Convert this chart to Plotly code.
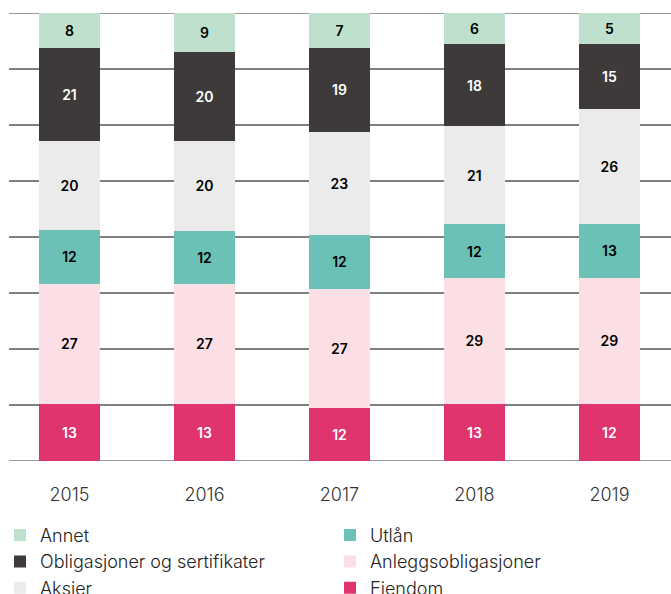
import plotly.graph_objects as go

years = ["2015", "2016", "2017", "2018", "2019"]
# bar heights (percent of total)
eiendom = [12.7, 12.7, 11.8, 12.7, 12.7]
anleggsobligasjoner = [26.9, 26.9, 26.6, 28.2, 28.2]
utlan = [11.9, 11.9, 12.1, 11.9, 12.1]
aksjer = [20.0, 20.0, 22.9, 21.9, 25.5]
obligasjoner = [20.7, 19.9, 18.7, 18.4, 14.6]
annet = [7.8, 8.7, 7.8, 6.9, 6.9]
# printed labels
eiendom_lbl = [13, 13, 12, 13, 12]
anleggsobligasjoner_lbl = [27, 27, 27, 29, 29]
utlan_lbl = [12, 12, 12, 12, 13]
aksjer_lbl = [20, 20, 23, 21, 26]
obligasjoner_lbl = [21, 20, 19, 18, 15]
annet_lbl = [8, 9, 7, 6, 5]

series = [
    ("Eiendom", eiendom, eiendom_lbl, "#e0346e", "white", 6),
    ("Anleggsobligasjoner", anleggsobligasjoner, anleggsobligasjoner_lbl, "#fbdfe4", "black", 4),
    ("Utlån", utlan, utlan_lbl, "#6bc1b6", "black", 2),
    ("Aksjer", aksjer, aksjer_lbl, "#ebebeb", "black", 5),
    ("Obligasjoner og sertifikater", obligasjoner, obligasjoner_lbl, "#3e3a39", "white", 3),
    ("Annet", annet, annet_lbl, "#bfe0cc", "black", 1),
]

fig = go.Figure()
for name, vals, lbls, color, tcolor, rank in series:
    fig.add_trace(go.Bar(
        x=years, y=vals, name=name,
        marker=dict(color=color, line=dict(width=0)),
        text=[str(v) for v in lbls],
        textposition="inside", insidetextanchor="middle", textangle=0,
        textfont=dict(family="Inter", size=14, color=tcolor, weight=600),
        width=0.452, legendrank=rank, hoverinfo="skip",
    ))

grid_vals = [12.5 * i for i in range(9)]
shapes = []
for g in grid_vals:
    edge = g in (0, 100)
    shapes.append(dict(
        type="line", xref="paper", yref="y", x0=0, x1=1, y0=g, y1=g,
        line=dict(color="#9a9a9a" if edge else "#555555", width=2 if edge else 1.5),
        layer="below",
    ))

fig.update_layout(
    width=671, height=594,
    margin=dict(l=9, r=0, t=13, b=133, autoexpand=False),
    barmode="stack", barnorm="percent",
    plot_bgcolor="white", paper_bgcolor="white",
    shapes=shapes,
    showlegend=True,
    legend=dict(
        orientation="h", xref="container", yref="container",
        x=0.0, xanchor="left", y=0.130, yanchor="top",
        traceorder="normal", entrywidth=285, entrywidthmode="pixels",
        font=dict(family="Inter", size=18, color="#222222", weight=300),
        itemwidth=30, tracegroupgap=0,
    ),
    xaxis=dict(
        type="category", range=[-0.448, 4.456], showgrid=False, zeroline=False,
        showline=False, ticks="outside", ticklen=17, tickcolor="rgba(0,0,0,0)",
        tickfont=dict(family="Inter", size=18, color="#333333", weight=300),
    ),
    yaxis=dict(range=[0, 100], showgrid=False, zeroline=False, showticklabels=False, showline=False),
    uniformtext=dict(minsize=10, mode="show"),
)

fig.write_html("out.html", config={"displayModeBar": False},
               post_script="document.body.style.margin='0';")
